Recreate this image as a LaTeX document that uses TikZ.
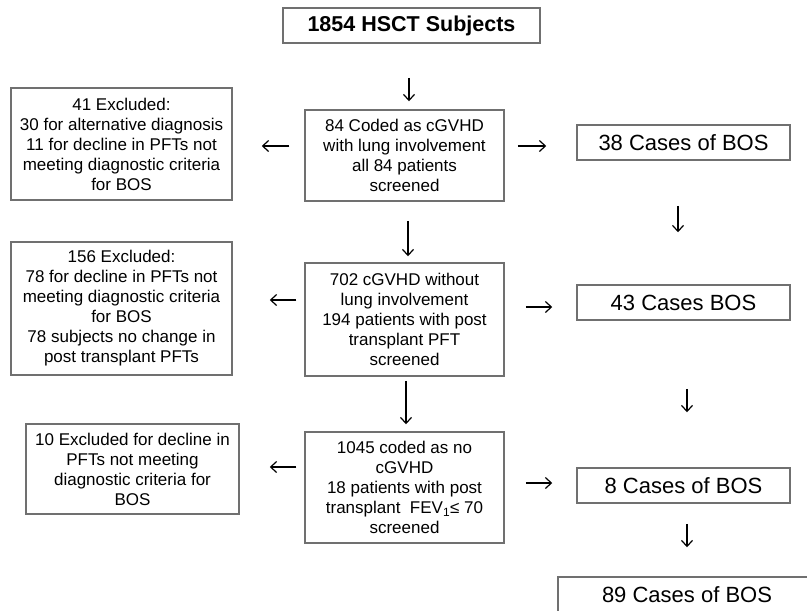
\documentclass[tikz,border=0pt]{standalone}
\usepackage{fontspec}
\setmainfont{Liberation Sans}
\usetikzlibrary{arrows.meta}
\definecolor{boxline}{RGB}{112,112,112}

\begin{document}
\begin{tikzpicture}[x=1pt,y=-1pt]
	\tikzstyle{every node}=[draw=boxline,line width=1.5pt,align=center,inner sep=2pt,
		font=\fontsize{17}{20}\selectfont]
	\tikzstyle{flow}=[line width=1.2pt,-{Straight Barb[length=6pt,width=11pt]}]
	\tikzstyle{bos}=[minimum width=213pt,minimum height=35pt,font=\fontsize{22}{25}\selectfont]
	\path[use as bounding box,clip] (0,0) rectangle (807,611);
	% middle column
	\node[minimum width=257pt,minimum height=35pt,font=\bfseries\fontsize{21.5}{24}\selectfont] (subj) at (411.5,25.5) {1854 HSCT Subjects};
	\node[minimum width=199pt,minimum height=91pt] (lung) at (404.5,155.5) {84 Coded as cGVHD\\with lung involvement\\all 84 patients\\screened};
	\node[minimum width=199pt,minimum height=113pt] (nolung) at (404.5,319.5) {702 cGVHD without\\lung involvement\\194 patients with post\\transplant PFT\\screened};
	\node[minimum width=199pt,minimum height=111pt] (none) at (404.5,487.5) {1045 coded as no\\cGVHD\\18 patients with post\\transplant\ \ FEV\textsubscript{1}≤ 70\\screened};
	% excluded
	\node[minimum width=221pt,minimum height=112pt] (exA) at (121.5,144) {41 Excluded:\\30 for alternative diagnosis\\11 for decline in PFTs not\\meeting diagnostic criteria\\for BOS};
	\node[minimum width=221pt,minimum height=133pt] (exB) at (121.5,308.5) {156 Excluded:\\78 for decline in PFTs not\\meeting diagnostic criteria\\for BOS\\78 subjects no change in\\post transplant PFTs};
	\node[minimum width=213pt,minimum height=90pt] (exC) at (132.5,469) {10 Excluded for decline in\\PFTs not meeting\\diagnostic criteria for\\BOS};
	% cases
	\node[bos] (bosA) at (683.5,142.5) {38 Cases of BOS};
	\node[bos] (bosB) at (683.5,302.5) {43 Cases BOS};
	\node[bos] (bosC) at (683.5,485.5) {8 Cases of BOS};
	\node[bos,minimum width=258pt] (total) at (687,594.5) {89 Cases of BOS};

	\draw[flow,shorten <=34pt,shorten >=8pt] (subj.south -| 409,0) -- (lung.north -| 409,0);
	\draw[flow,shorten <=19pt,shorten >=6pt] (lung.south -| 408,0) -- (nolung.north -| 408,0);
	\draw[flow,shorten <=4pt,shorten >=7pt] (nolung.south -| 406,0) -- (none.north -| 406,0);
	\draw[flow,shorten <=15pt,shorten >=29pt] (lung.west |- 0,146) -- (exA.east |- 0,146);
	\draw[flow,shorten <=13pt,shorten >=30pt] (lung.east |- 0,146) -- (bosA.west |- 0,146);
	\draw[flow,shorten <=8pt,shorten >=37pt] (nolung.west |- 0,300) -- (exB.east |- 0,300);
	\draw[flow,shorten <=21pt,shorten >=24pt] (nolung.east |- 0,307) -- (bosB.west |- 0,307);
	\draw[flow,shorten <=8pt,shorten >=30pt] (none.west |- 0,467) -- (exC.east |- 0,467);
	\draw[flow,shorten <=21pt,shorten >=24pt] (none.east |- 0,483) -- (bosC.west |- 0,483);
	\draw[flow,shorten <=45pt,shorten >=52pt] (bosA.south -| 678,0) -- (bosB.north -| 678,0);
	\draw[flow,shorten <=68pt,shorten >=55pt] (bosB.south -| 687,0) -- (bosC.north -| 687,0);
	\draw[flow,shorten <=20pt,shorten >=29pt] (bosC.south -| 687,0) -- (total.north -| 687,0);
\end{tikzpicture}
\end{document}
